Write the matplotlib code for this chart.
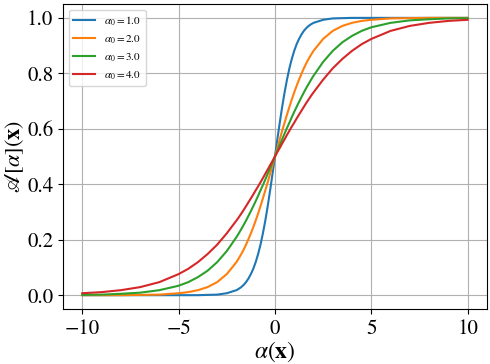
import matplotlib
matplotlib.use("Agg")
import matplotlib.pyplot as plt

plt.rcParams['font.family'] = 'STIXGeneral'
plt.rcParams['mathtext.fontset'] = 'stix'

# x positions (alpha(x)) and values
x = [-10, -9, -8, -7, -6, -5, -4.5, -4, -3.5, -3, -2.5, -2,
     -1.875, -1.75, -1.625, -1.5, -1.375, -1.25, -1.125, -1,
     -0.875, -0.75, -0.625, -0.5, -0.375, -0.25, -0.125, 0,
     0.125, 0.25, 0.375, 0.5, 0.625, 0.75, 0.875, 1,
     1.125, 1.25, 1.375, 1.5, 1.625, 1.75, 1.875, 2,
     2.5, 3, 3.5, 4, 4.5, 5, 6, 7, 8, 9, 10]

y_a1 = [0.000, 0.000, 0.000, 0.000, 0.000, 0.000, 0.000, 0.000, 0.001, 0.002, 0.007, 0.018,
        0.023, 0.029, 0.037, 0.047, 0.060, 0.076, 0.095, 0.119,
        0.148, 0.182, 0.223, 0.269, 0.321, 0.378, 0.438, 0.500,
        0.562, 0.622, 0.679, 0.731, 0.777, 0.818, 0.852, 0.881,
        0.905, 0.924, 0.940, 0.953, 0.963, 0.971, 0.977, 0.982,
        0.993, 0.998, 0.999, 1.000, 1.000, 1.000, 1.000, 1.000, 1.000, 1.000, 1.000]
y_a2 = [0.000, 0.000, 0.000, 0.001, 0.002, 0.007, 0.011, 0.018, 0.029, 0.047, 0.076, 0.119,
        0.133, 0.148, 0.164, 0.182, 0.202, 0.223, 0.245, 0.269,
        0.294, 0.321, 0.349, 0.378, 0.407, 0.438, 0.469, 0.500,
        0.531, 0.562, 0.593, 0.622, 0.651, 0.679, 0.706, 0.731,
        0.755, 0.777, 0.798, 0.818, 0.836, 0.852, 0.867, 0.881,
        0.924, 0.953, 0.971, 0.982, 0.989, 0.993, 0.998, 0.999, 1.000, 1.000, 1.000]
y_a3 = [0.001, 0.002, 0.005, 0.009, 0.018, 0.034, 0.047, 0.065, 0.088, 0.119, 0.159, 0.209,
        0.223, 0.238, 0.253, 0.269, 0.286, 0.303, 0.321, 0.339,
        0.358, 0.378, 0.397, 0.417, 0.438, 0.458, 0.479, 0.500,
        0.521, 0.542, 0.562, 0.583, 0.603, 0.622, 0.642, 0.661,
        0.679, 0.697, 0.714, 0.731, 0.747, 0.762, 0.777, 0.791,
        0.841, 0.881, 0.912, 0.935, 0.953, 0.966, 0.982, 0.991, 0.995, 0.998, 0.999]
y_a4 = [0.007, 0.011, 0.018, 0.029, 0.047, 0.076, 0.095, 0.119, 0.148, 0.182, 0.223, 0.269,
        0.281, 0.294, 0.307, 0.321, 0.335, 0.349, 0.363, 0.378,
        0.392, 0.407, 0.422, 0.438, 0.453, 0.469, 0.484, 0.500,
        0.516, 0.531, 0.547, 0.562, 0.578, 0.593, 0.608, 0.622,
        0.637, 0.651, 0.665, 0.679, 0.693, 0.706, 0.719, 0.731,
        0.777, 0.818, 0.852, 0.881, 0.905, 0.924, 0.953, 0.971, 0.982, 0.989, 0.993]

labels = [r'$\alpha_0 = 1.0$', r'$\alpha_0 = 2.0$', r'$\alpha_0 = 3.0$', r'$\alpha_0 = 4.0$']

fig = plt.figure(figsize=(4.9, 3.64), dpi=100)
ax = fig.add_axes([0.1286, 0.151, 0.865, 0.838])

for ys, lab in zip([y_a1, y_a2, y_a3, y_a4], labels):
    ax.plot(x, ys, lw=1.5, label=lab)

ax.grid(True)
ax.set_xticks([-10, -5, 0, 5, 10])
ax.set_yticks([0.0, 0.2, 0.4, 0.6, 0.8, 1.0])
ax.tick_params(labelsize=15)
ax.set_xlabel(r'$\alpha(\mathbf{x})$', fontsize=17, labelpad=1)
ax.set_ylabel(r'$\mathscr{A}[\alpha](\mathbf{x})$', fontsize=16, labelpad=1)
ax.legend(loc='upper left', fontsize=8)

fig.savefig('out.png', dpi=100)
